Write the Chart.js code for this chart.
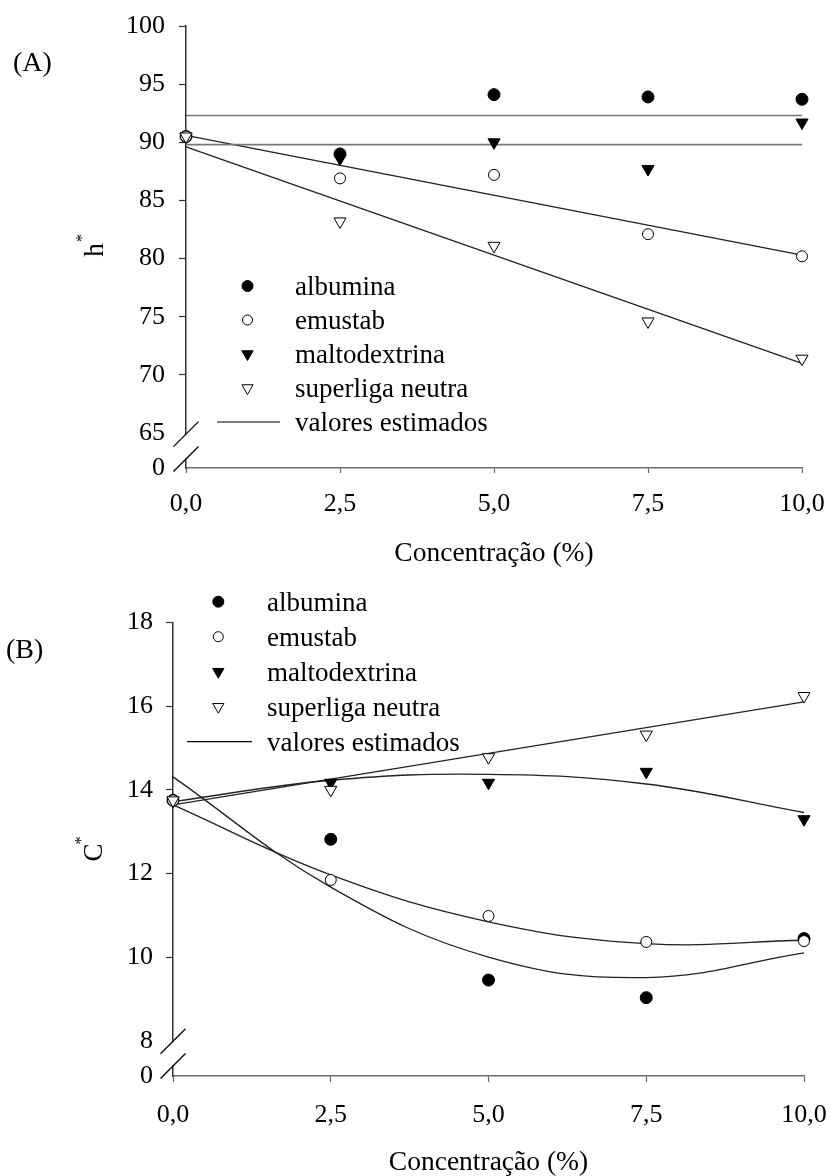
<!DOCTYPE html>
<html><head><meta charset="utf-8">
<script src="https://cdn.jsdelivr.net/npm/chart.js@4/dist/chart.umd.min.js"></script>
<style>
html,body{margin:0;padding:0;background:#fff;}
#wrap{position:relative;width:831px;height:1176px;background:#fff;}
canvas{position:absolute;left:0;}
</style></head><body>
<div id="wrap">
<canvas id="cA" width="831" height="578" style="top:0px"></canvas>
<canvas id="cB" width="831" height="598" style="top:578px"></canvas>
</div>
<script>
// ---------- data ----------
const concentracao = [0, 2.5, 5, 7.5, 10];
const xTickValues = [0, 2.5, 5, 7.5, 10];
const xTickLabels = ["0,0", "2,5", "5,0", "7,5", "10,0"];
const seriesNames = ["albumina", "emustab", "maltodextrina", "superliga neutra"];
const fitLabel = "valores estimados";
const xTitle = "Concentração (%)";

// (A) h*
const hAlbumina   = [90.5, 89.0, 94.1, 93.9, 93.7];
const hEmustab    = [90.5, 86.9, 87.2, 82.1, 80.2];
const hMalto      = [90.5, 88.6, 90.0, 87.7, 91.7];
const hSuperliga  = [90.5, 83.2, 81.1, 74.6, 71.4];
const hFitX       = [0, 10];
const hFitAlbumina  = [92.3, 92.3];
const hFitMalto     = [89.8, 89.8];
const hFitEmustab   = [90.6, 80.3];
const hFitSuperliga = [89.6, 71.0];
const yTicksA      = [62, 65, 70, 75, 80, 85, 90, 95, 100];
const yTickLabelsA = ["0", "65", "70", "75", "80", "85", "90", "95", "100"];

// (B) C*
const cAlbumina   = [13.75, 12.82, 9.46, 9.04, 10.45];
const cEmustab    = [13.75, 11.85, 10.99, 10.37, 10.39];
const cMalto      = [13.75, 14.17, 14.17, 14.43, 13.30];
const cSuperliga  = [13.75, 14.00, 14.78, 15.32, 16.24];
const cFitAlbumina  = [14.31, 11.68, 10.01, 9.52, 10.11];
const cFitEmustab   = [13.64, 11.97, 10.85, 10.33, 10.41];
const cFitMalto     = [13.72, 14.23, 14.37, 14.14, 13.46];
const cFitSuperX    = [0, 10];
const cFitSuperliga = [13.64, 16.10];
const yTicksB      = [7.17, 8, 10, 12, 14, 16, 18];
const yTickLabelsB = ["0", "8", "10", "12", "14", "16", "18"];

// ---------- styling ----------
const FONT = "'Liberation Serif','Times New Roman',serif";
const markerStyles = [
  {style: 'circle',   rot: 0,   r: 6,   fill: '#000', order: 3},
  {style: 'circle',   rot: 0,   r: 5.5, fill: '#fff', order: 1},
  {style: 'triangle', rot: 180, r: 7,   fill: '#000', order: 2},
  {style: 'triangle', rot: 180, r: 7,   fill: '#fff', order: 0}
];

function pts(xs, ys) { return xs.map((x, i) => ({x: x, y: ys[i]})); }

function drawMarker(ctx, i, x, y) {
  const s = markerStyles[i];
  ctx.save();
  ctx.lineWidth = 1;
  ctx.strokeStyle = '#000';
  ctx.fillStyle = s.fill;
  ctx.beginPath();
  if (s.style === 'circle') {
    ctx.arc(x, y, s.r - 0.5, 0, Math.PI * 2);
  } else {
    const r = s.r - 0.5;
    const a = Math.PI / 6;
    ctx.moveTo(x, y + r);
    ctx.lineTo(x - r * Math.cos(a), y - r * Math.sin(a));
    ctx.lineTo(x + r * Math.cos(a), y - r * Math.sin(a));
    ctx.closePath();
  }
  ctx.fill();
  ctx.stroke();
  ctx.restore();
}

function decorPlugin(cfg) {
  return {
    id: 'decor',
    afterDraw(chart) {
      const ctx = chart.ctx;
      const ys = chart.scales.y, xs = chart.scales.x;
      const ax = ys.right;
      const bottom = xs.top;
      const upY = ys.getPixelForValue(cfg.breakValue) + cfg.breakUpOffset;
      const lowY = bottom - cfg.breakLowOffset;
      ctx.save();
      // axis break gap
      ctx.fillStyle = '#fff';
      ctx.fillRect(ax - 4, upY + 1, 8, lowY - upY - 2);
      ctx.strokeStyle = '#000';
      ctx.lineWidth = 1.2;
      [upY, lowY].forEach(cy => {
        ctx.beginPath();
        ctx.moveTo(ax - 12.5, cy + 12.5);
        ctx.lineTo(ax + 12.5, cy - 12.5);
        ctx.stroke();
      });
      // legend
      ctx.fillStyle = '#000';
      ctx.font = '27px ' + FONT;
      ctx.textAlign = 'left';
      ctx.textBaseline = 'alphabetic';
      seriesNames.forEach((name, i) => {
        const yy = cfg.legY + i * cfg.legStep;
        drawMarker(ctx, i, cfg.legMarkX, yy);
        ctx.fillStyle = '#000';
        ctx.fillText(name, cfg.legTextX, yy + 9);
      });
      const ly = cfg.legY + 4 * cfg.legStep;
      ctx.beginPath();
      ctx.lineWidth = 1.2;
      ctx.moveTo(cfg.legLineX0, ly);
      ctx.lineTo(cfg.legLineX1, ly);
      ctx.stroke();
      ctx.fillText(fitLabel, cfg.legTextX, ly + 9);
      // panel label
      ctx.font = '28px ' + FONT;
      ctx.fillText(cfg.panel, cfg.panelX, cfg.panelY);
      // x title
      ctx.font = '27.5px ' + FONT;
      ctx.textAlign = 'center';
      ctx.fillText(xTitle, (xs.left + xs.right) / 2, bottom + cfg.xTitleOff);
      // y title with superscript asterisk
      ctx.save();
      ctx.translate(cfg.yTitleX, cfg.yTitleY);
      ctx.rotate(-Math.PI / 2);
      ctx.textAlign = 'center';
      ctx.font = '27px ' + FONT;
      ctx.fillText(cfg.yTitle, 0, 0);
      ctx.font = '16px ' + FONT;
      ctx.fillText('*', 12, -16);
      ctx.restore();
      ctx.restore();
    }
  };
}

function makeChart(id, spec) {
  const datasets = [];
  spec.fits.forEach(f => datasets.push({
    label: fitLabel, data: pts(f.x, f.y), showLine: true, pointRadius: 0,
    borderColor: f.color, borderWidth: f.width, tension: f.tension,
    fill: false, clip: false, order: 10
  }));
  spec.series.forEach((s, i) => {
    const st = markerStyles[i];
    datasets.push({
      label: seriesNames[i], data: pts(concentracao, s), showLine: false,
      pointStyle: st.style, rotation: st.rot, pointRadius: st.r,
      backgroundColor: st.fill, borderColor: '#000', borderWidth: 1,
      clip: false, order: st.order
    });
  });
  const hidden = spec.hiddenTicks;
  return new Chart(document.getElementById(id), {
    type: 'scatter',
    data: {datasets: datasets},
    options: {
      responsive: false, animation: false, devicePixelRatio: 1, events: [],
      layout: {padding: {top: spec.padTop, right: spec.padRight, left: 0, bottom: 0}},
      plugins: {legend: {display: false}, tooltip: {enabled: false}},
      scales: {
        x: {
          type: 'linear', min: 0, max: 10,
          afterBuildTicks: sc => { sc.ticks = xTickValues.map(v => ({value: v})); },
          afterFit: sc => { sc.height = spec.xHeight; sc.paddingLeft = 0; sc.paddingRight = 0; },
          ticks: {
            callback: (v) => xTickLabels[xTickValues.indexOf(v)],
            font: {family: FONT, size: 26}, color: '#000', padding: spec.xPad,
            maxRotation: 0, autoSkip: false
          },
          grid: {drawOnChartArea: false, drawTicks: true, tickLength: spec.xTickLen, tickColor: '#666', tickWidth: 1.2},
          border: {display: true, color: '#6e6e6e', width: 1.5}
        },
        y: {
          type: 'linear', min: spec.yTicks[0], max: spec.yTicks[spec.yTicks.length - 1],
          afterBuildTicks: sc => { sc.ticks = spec.yTicks.map(v => ({value: v})); },
          afterFit: sc => { sc.width = spec.yWidth; sc.paddingTop = 0; sc.paddingBottom = 0; },
          ticks: {
            callback: (v) => spec.yLabels[spec.yTicks.indexOf(v)],
            font: {family: FONT, size: 26}, color: '#000', padding: spec.yPad, autoSkip: false
          },
          grid: {
            drawOnChartArea: false, drawTicks: true, tickLength: 7, tickWidth: 1.2,
            tickColor: c => (hidden.indexOf(c.index) >= 0 ? 'rgba(0,0,0,0)' : '#333')
          },
          border: {display: true, color: '#333', width: 1.5}
        }
      }
    },
    plugins: [decorPlugin(spec.decor)]
  });
}

// Chart A
makeChart('cA', {
  series: [hAlbumina, hEmustab, hMalto, hSuperliga],
  fits: [
    {x: hFitX, y: hFitAlbumina, color: '#777', width: 1.6, tension: 0},
    {x: hFitX, y: hFitMalto, color: '#777', width: 1.6, tension: 0},
    {x: hFitX, y: hFitEmustab, color: '#222', width: 1.3, tension: 0},
    {x: hFitX, y: hFitSuperliga, color: '#222', width: 1.3, tension: 0}
  ],
  yTicks: yTicksA, yLabels: yTickLabelsA, hiddenTicks: [0, 1],
  padTop: 26, padRight: 29, yWidth: 186, xHeight: 578 - 468, xPad: 16, xTickLen: 5, yPad: 14,
  decor: {
    breakValue: 65, breakUpOffset: 1, breakLowOffset: 9,
    legY: 286, legStep: 34, legMarkX: 247.5, legTextX: 295, legLineX0: 217, legLineX1: 280,
    panel: '(A)', panelX: 13, panelY: 71,
    xTitleOff: 93, yTitle: 'h', yTitleX: 103, yTitleY: 250
  }
});

// Chart B
makeChart('cB', {
  series: [cAlbumina, cEmustab, cMalto, cSuperliga],
  fits: [
    {x: concentracao, y: cFitAlbumina, color: '#222', width: 1.3, tension: 0.4},
    {x: concentracao, y: cFitEmustab, color: '#222', width: 1.3, tension: 0.4},
    {x: concentracao, y: cFitMalto, color: '#222', width: 1.3, tension: 0.4},
    {x: cFitSuperX, y: cFitSuperliga, color: '#222', width: 1.3, tension: 0}
  ],
  yTicks: yTicksB, yLabels: yTickLabelsB, hiddenTicks: [0, 1],
  padTop: 44.3, padRight: 27, yWidth: 173, xHeight: 598 - 498, xPad: 18, xTickLen: 6, yPad: 13,
  decor: {
    breakValue: 8, breakUpOffset: 0, breakLowOffset: 10,
    legY: 23.7, legStep: 35, legMarkX: 218.3, legTextX: 267, legLineX0: 187, legLineX1: 252,
    panel: '(B)', panelX: 6, panelY: 80,
    xTitleOff: 94, yTitle: 'C', yTitleX: 102, yTitleY: 274.5
  }
});
</script>
</body></html>
